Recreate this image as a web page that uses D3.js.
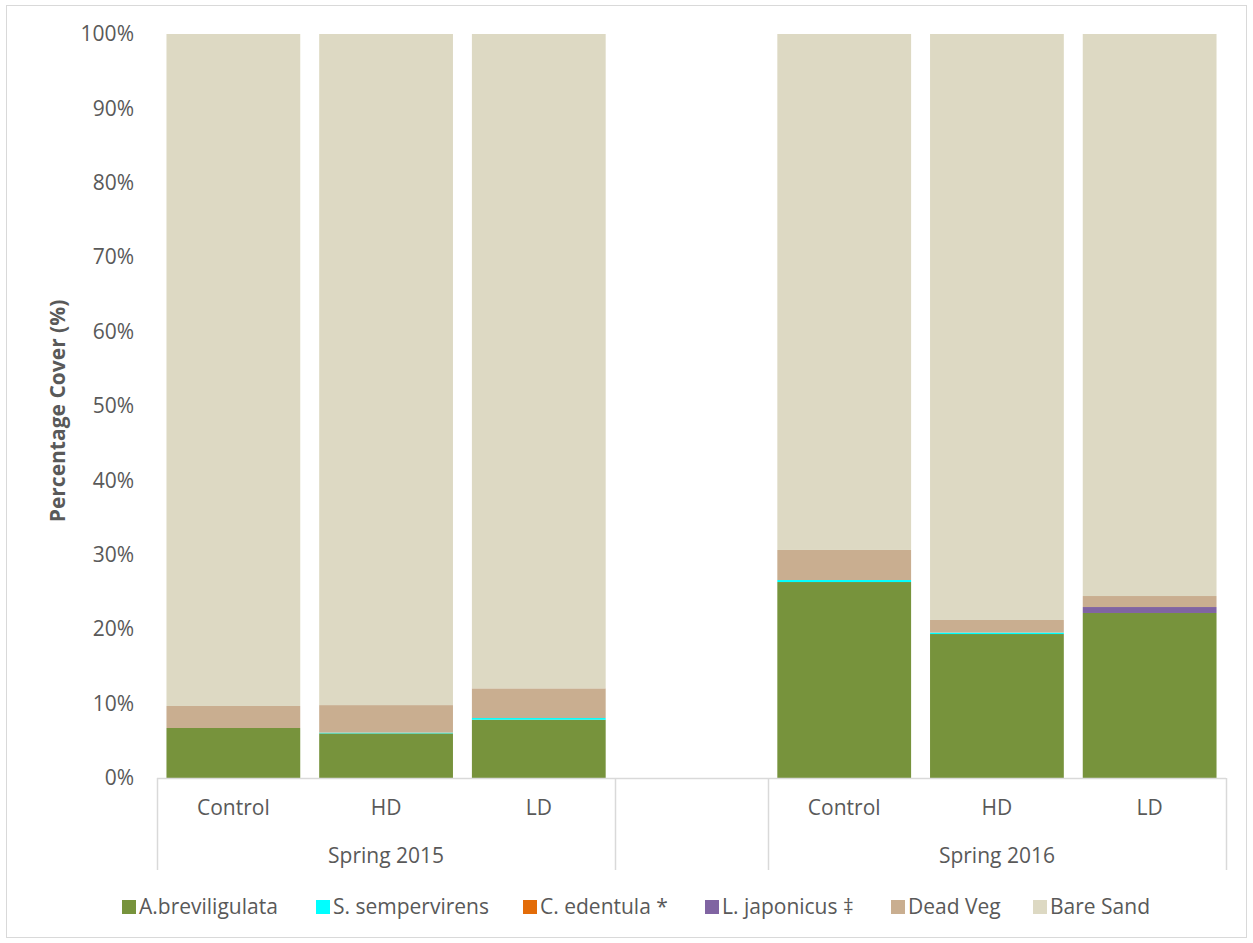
<!DOCTYPE html>
<html>
<head>
<meta charset="utf-8">
<script src="https://cdn.jsdelivr.net/npm/d3@7"></script>
<style>
  html, body { margin: 0; padding: 0; background: #fff; }
  svg { display: block; font-family: "Open Sans", sans-serif; }
</style>
</head>
<body>
<svg id="chart" width="1253" height="943"></svg>
<script>
// Treatments within each season; the empty slot separates the two seasons
const categories = ["Control", "HD", "LD", "", "Control", "HD", "LD"];
const slotIds = ["c15", "h15", "l15", "gap", "c16", "h16", "l16"];
const seasons = [
  { label: "Spring 2015", from: 0, to: 3 },
  { label: "Spring 2016", from: 4, to: 7 }
];

// Percentage cover of each class (gap slot holds no data)
const aBreviligulata = [6.72, 6.0, 7.84, null, 26.34, 19.35, 22.18];
const sSempervirens  = [0.0, 0.1, 0.22, null, 0.27, 0.2, 0.0];
const cEdentula      = [0.0, 0.0, 0.0, null, 0.0, 0.0, 0.0];
const lJaponicus     = [0.0, 0.0, 0.0, null, 0.0, 0.0, 0.8];
const deadVeg        = [2.96, 3.7, 3.99, null, 4.04, 1.69, 1.48];
const bareSand       = [90.32, 90.2, 87.95, null, 69.35, 78.76, 75.54];

const seriesNames = ["A.breviligulata", "S. sempervirens", "C. edentula *", "L. japonicus \u2021", "Dead Veg", "Bare Sand"];
const seriesColors = ["#77933C", "#00FFFF", "#E36C09", "#8064A2", "#C9AE90", "#DDD9C3"];
const seriesValues = [aBreviligulata, sSempervirens, cEdentula, lJaponicus, deadVeg, bareSand];
const yTicks = [0, 10, 20, 30, 40, 50, 60, 70, 80, 90, 100];

const svg = d3.select("#chart");
const textColor = "#595959";
const lineColor = "#D9D9D9";
const fontSize = "21px";

// Outer chart frame
svg.append("rect")
  .attr("x", 6.5).attr("y", 5.5).attr("width", 1240).attr("height", 932)
  .attr("fill", "#fff").attr("stroke", lineColor).attr("stroke-width", 1);

const plot = { left: 157, right: 1226, top: 34, bottom: 778 };

const x = d3.scaleBand().domain(slotIds).range([plot.left, plot.right]).paddingInner(0.124).paddingOuter(0.062);
const y = d3.scaleLinear().domain([0, 100]).range([plot.bottom, plot.top]);

// Build rows for stacking
const rows = slotIds.map((id, i) => {
  const r = { id };
  seriesNames.forEach((n, k) => { r[n] = seriesValues[k][i] == null ? 0 : seriesValues[k][i]; });
  return r;
});
const stacked = d3.stack().keys(seriesNames)(rows);

const g = svg.append("g");
stacked.forEach((layer, k) => {
  g.append("g").attr("fill", seriesColors[k])
    .selectAll("rect")
    .data(layer.filter(d => d.data.id !== "gap" && d[1] - d[0] > 0))
    .join("rect")
    .attr("x", d => x(d.data.id))
    .attr("width", x.bandwidth())
    .attr("y", d => y(d[1]))
    .attr("height", d => y(d[0]) - y(d[1]));
});

// Y axis labels
const yAxis = d3.axisLeft(y).tickValues(yTicks).tickFormat(d => d + "%").tickSize(0).tickPadding(23);
const ya = svg.append("g").attr("transform", `translate(${plot.left},0)`).call(yAxis);
ya.select(".domain").remove();
ya.selectAll("text").attr("fill", textColor).style("font-size", fontSize).style("font-family", "Open Sans");

// Y title
svg.append("text")
  .attr("transform", "translate(65,411) rotate(-90)")
  .attr("text-anchor", "middle")
  .attr("fill", textColor)
  .style("font-size", fontSize).style("font-weight", "bold")
  .text("Percentage Cover (%)");

// Category axis: baseline, slot labels, season groups
const step = x.step();
const slotLeft = i => plot.left + i * step;
const axisG = svg.append("g").attr("stroke", lineColor).attr("stroke-width", 1.5);
axisG.append("line").attr("x1", plot.left).attr("x2", plot.right).attr("y1", plot.bottom + 0.5).attr("y2", plot.bottom + 0.5);
const dividers = [0, 3, 4, 7];
dividers.forEach(i => {
  const xx = Math.round(slotLeft(i)) + 0.5;
  axisG.append("line").attr("x1", xx).attr("x2", xx).attr("y1", plot.bottom).attr("y2", 870);
});

svg.append("g").selectAll("text")
  .data(categories.map((c, i) => ({ c, id: slotIds[i] })).filter(d => d.c))
  .join("text")
  .attr("x", d => x(d.id) + x.bandwidth() / 2)
  .attr("y", 815)
  .attr("text-anchor", "middle")
  .attr("fill", textColor)
  .style("font-size", fontSize)
  .text(d => d.c);

svg.append("g").selectAll("text")
  .data(seasons)
  .join("text")
  .attr("x", d => (slotLeft(d.from) + slotLeft(d.to)) / 2)
  .attr("y", 863)
  .attr("text-anchor", "middle")
  .attr("fill", textColor)
  .style("font-size", fontSize)
  .text(d => d.label);

// Legend
const legendX = [122, 316, 523, 705, 891, 1033];
const lg = svg.append("g");
seriesNames.forEach((n, k) => {
  lg.append("rect").attr("x", legendX[k]).attr("y", 900).attr("width", 14).attr("height", 14).attr("fill", seriesColors[k]);
  lg.append("text").attr("x", legendX[k] + 17).attr("y", 914)
    .attr("fill", textColor).style("font-size", fontSize).text(n);
});
</script>
</body>
</html>
